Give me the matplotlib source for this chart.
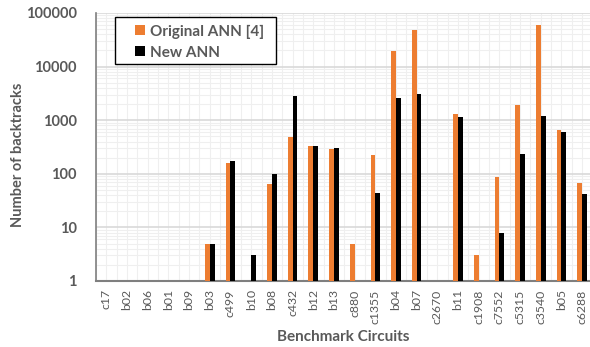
import numpy as np
import matplotlib
matplotlib.use('Agg')
import matplotlib.pyplot as plt
from matplotlib.patches import Rectangle
from matplotlib.ticker import LogLocator, FixedLocator, NullFormatter

# benchmark circuits and backtrack counts (None = no bar)
circuits = ['c17', 'b02', 'b06', 'b01', 'b09', 'b03', 'c499', 'b10', 'b08', 'c432',
            'b12', 'b13', 'c880', 'c1355', 'b04', 'b07', 'c2670', 'b11', 'c1908',
            'c7552', 'c5315', 'c3540', 'b05', 'c6288']
original_ann = [None, None, None, None, None, 5, 162, None, 65, 490,
                325, 290, 5, 225, 19500, 49000, None, 1320, 3,
                88, 1900, 60000, 645, 68]
new_ann = [None, None, None, None, None, 5, 176, 3, 98, 2800,
           337, 298, None, 44, 2600, 3100, None, 1130, None,
           8, 231, 1180, 615, 42]

orange = '#ed7d31'
gray_text = '#595959'
font = 'Lato'
W, H = 590, 347

fig = plt.figure(figsize=(5.9, 3.47), dpi=100)
ax = fig.add_axes([96 / W, 1 - 281 / H, (592.5 - 96) / W, (281 - 13) / H])

x = np.arange(len(circuits))
w = 0.23
orig = np.array([np.nan if v is None else v for v in original_ann], dtype=float)
new = np.array([np.nan if v is None else v for v in new_ann], dtype=float)
ax.bar(x - w / 2, orig - 1, w, bottom=1, color=orange, label='Original ANN [4]', zorder=3)
ax.bar(x + w / 2, new - 1, w, bottom=1, color='black', label='New ANN', zorder=3)

ax.set_yscale('log')
ax.set_ylim(1, 100000)
ax.set_xlim(-0.5, len(circuits) - 0.5)
ax.yaxis.set_major_locator(FixedLocator([1, 10, 100, 1000, 10000, 100000]))
ax.set_yticklabels(['1', '10', '100', '1000', '10000', '100000'])
ax.yaxis.set_minor_locator(LogLocator(base=10, subs=np.arange(2, 10)))
ax.yaxis.set_minor_formatter(NullFormatter())
ax.set_xticks(x)
ax.set_xticks(np.arange(-0.5, len(circuits), 1.0), minor=True)
ax.set_xticklabels(circuits, rotation=90, fontsize=8.8, color=gray_text, family=font)
for lab in ax.get_yticklabels():
    lab.set_fontsize(10.5)
    lab.set_fontweight('bold')
    lab.set_color(gray_text)
    lab.set_family(font)

ax.grid(True, which='major', axis='y', color='#d9d9d9', lw=1.2, zorder=0)
ax.grid(True, which='minor', axis='y', color='#efefef', lw=0.8, zorder=0)
ax.grid(True, which='both', axis='x', color='#efefef', lw=0.8, zorder=0)
ax.tick_params(axis='both', which='both', length=0)
ax.tick_params(axis='y', pad=14)
ax.tick_params(axis='x', pad=6)

for s in ['top', 'right']:
    ax.spines[s].set_visible(False)
ax.spines['left'].set_color('#7f7f7f')
ax.spines['bottom'].set_color('#7f7f7f')
ax.spines['left'].set_linewidth(1.2)
ax.spines['bottom'].set_linewidth(1.5)

fig.text(18 / W, 1 - 155 / H, 'Number of backtracks', rotation=90, ha='center', va='center',
         fontsize=10.5, fontweight='bold', color=gray_text, family=font)
fig.text(343 / W, 1 - 337 / H, 'Benchmark Circuits', ha='center', va='center',
         fontsize=11, fontweight='bold', color=gray_text, family=font)

# legend frame drawn separately so its width matches the original
fig.patches.append(Rectangle((115 / W, 1 - 64 / H), (276 - 115) / W, (64 - 17) / H,
                             transform=fig.transFigure, facecolor='white',
                             edgecolor='black', lw=1.0, zorder=4))
leg = fig.legend(loc='upper left', bbox_to_anchor=(130 / W, 1 - 20 / H),
                 frameon=False, handlelength=0.65, handleheight=0.65, handletextpad=0.35,
                 borderpad=0.3, labelspacing=0.45, borderaxespad=0,
                 prop={'family': font, 'weight': 'bold', 'size': 11})
leg.set_zorder(5)
for t in leg.get_texts():
    t.set_color(gray_text)

fig.savefig('out.png', dpi=100)
